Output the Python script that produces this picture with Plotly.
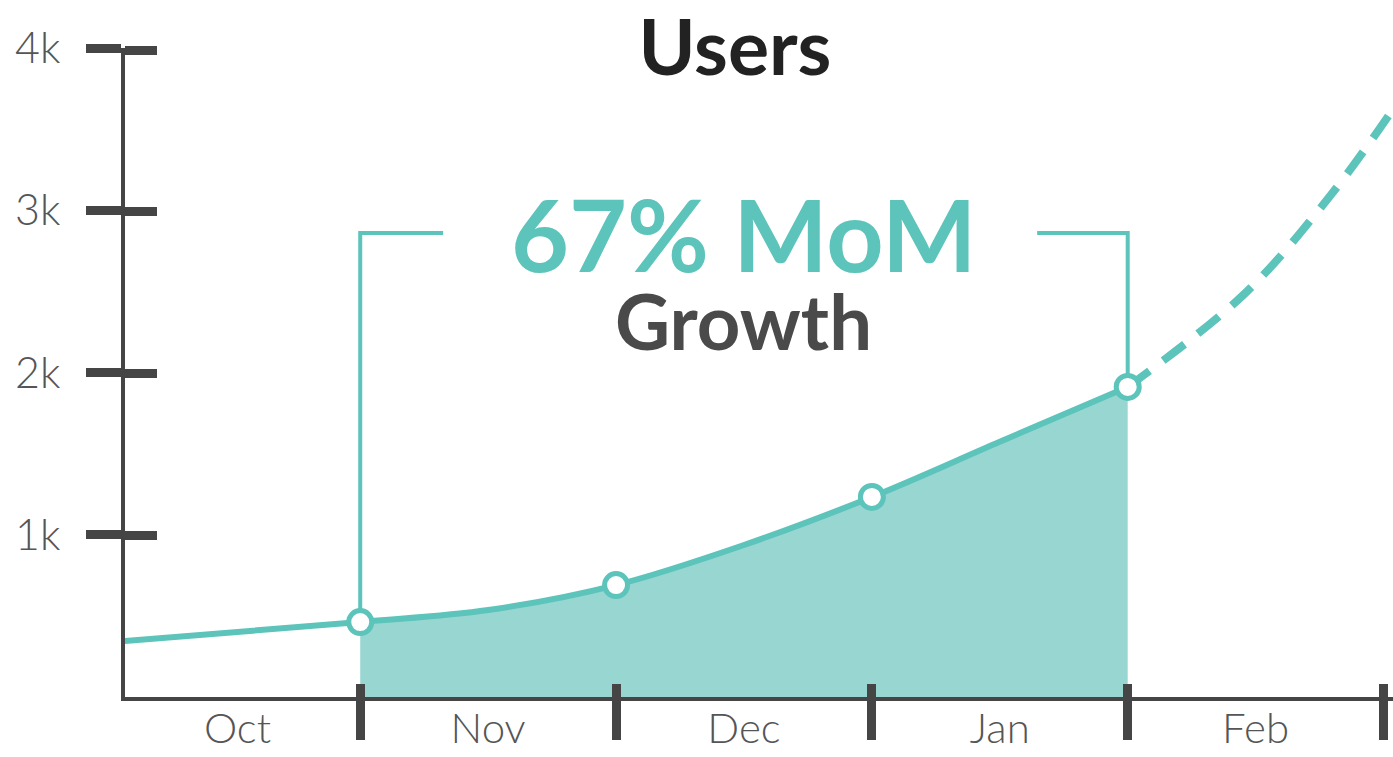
import plotly.graph_objects as go

# ---- data ----
months = ["Oct", "Nov", "Dec", "Jan", "Feb"]
month_bounds = [1, 2, 3, 4, 5]                       # month boundaries (x units)
line_x = [0.08, 1, 1.5, 2, 2.5, 3, 3.5, 4]
line_users = [345, 462, 536, 690, 937, 1233, 1573, 1911]
fill_x = [1, 1.5, 2, 2.5, 3, 3.5, 4]
fill_users = [462, 536, 690, 937, 1233, 1573, 1911]
point_x = [1, 2, 3, 4]
point_users = [462, 690, 1233, 1911]
proj_x = [4, 4.46, 4.8, 5.04]
proj_users = [1911, 2490, 3106, 3630]                # projection (dashed)
y_ticks = [1000, 2000, 3000, 4000]
y_ticktext = ["1k", "2k", "3k", "4k"]
growth_label = "67% MoM"
growth_sub = "Growth"
title_text = "Users"
bracket_top = 2860
bracket_inner = [1.324, 3.646]

TEAL = "#5cc4ba"
FILL = "#98d6d2"
DARK = "#454545"
LABEL = "#555555"

XR = [0.0805, 5.037]
YR = [0, 4000]
YR2 = [0, 4013]   # overlay axis for inner tick halves (keeps top tick from being clipped)

label_x = [0.52] + [b + 0.5 for b in month_bounds[:-1]]

fig = go.Figure()

# filled area Nov..Feb start
fig.add_trace(go.Scatter(x=fill_x, y=fill_users, mode="lines",
                         line=dict(width=0, shape="spline", color=FILL),
                         fill="tozeroy", fillcolor=FILL, hoverinfo="skip"))
# brackets
fig.add_trace(go.Scatter(x=[point_x[0], point_x[0], bracket_inner[0]],
                         y=[point_users[0], bracket_top, bracket_top],
                         mode="lines", line=dict(color=TEAL, width=4), hoverinfo="skip"))
fig.add_trace(go.Scatter(x=[bracket_inner[1], point_x[-1], point_x[-1]],
                         y=[bracket_top, bracket_top, point_users[-1]],
                         mode="lines", line=dict(color=TEAL, width=4), hoverinfo="skip"))
# projection
fig.add_trace(go.Scatter(x=proj_x, y=proj_users, mode="lines", cliponaxis=False,
                         line=dict(color=TEAL, width=8, dash="27px,17px", shape="spline")))
# solid line
fig.add_trace(go.Scatter(x=line_x, y=line_users, mode="lines",
                         line=dict(color=TEAL, width=6, shape="spline")))
# markers
fig.add_trace(go.Scatter(x=point_x, y=point_users, mode="markers",
                         marker=dict(size=23, color="white", line=dict(color=TEAL, width=5))))
# dummy traces for overlay axes
fig.add_trace(go.Scatter(x=[None], y=[None], xaxis="x2", yaxis="y2", hoverinfo="skip"))
fig.add_trace(go.Scatter(x=[None], y=[None], xaxis="x3", yaxis="y", hoverinfo="skip"))

mid = (point_x[0] + point_x[-1]) / 2
fig.add_annotation(x=mid, y=bracket_top, text=f"<b>{growth_label}</b>",
                   showarrow=False, font=dict(family="Lato", size=100, color=TEAL),
                   xanchor="center", yanchor="middle")
fig.add_annotation(x=mid, y=2320, text=f"<b>{growth_sub}</b>",
                   showarrow=False, font=dict(family="Lato", size=76, color="#4a4a4a"),
                   xanchor="center", yanchor="middle")

fig.update_layout(
    width=1393, height=757,
    margin=dict(l=125, r=0, t=48, b=60, pad=0),
    paper_bgcolor="white", plot_bgcolor="white",
    showlegend=False,
    title=dict(text=f"<b>{title_text}</b>", x=735 / 1393, xref="container", xanchor="center",
               y=1 - 48 / 757, yref="container", yanchor="middle",
               font=dict(family="Lato", size=77, color="#222222")),
    xaxis=dict(range=XR, showgrid=False, zeroline=False, showline=True, linecolor=DARK, linewidth=4,
               ticks="outside", ticklen=39, tickwidth=9, tickcolor=DARK, tickvals=month_bounds,
               showticklabels=False),
    xaxis2=dict(range=XR, overlaying="x", anchor="y2", side="bottom", showgrid=False, zeroline=False,
                ticks="inside", ticklen=13, tickwidth=9, tickcolor=DARK, tickvals=month_bounds,
                showticklabels=False),
    xaxis3=dict(range=XR, overlaying="x", anchor="y", side="bottom", showgrid=False, zeroline=False,
                ticks="", tickvals=label_x, ticktext=months, ticklabelstandoff=3,
                tickfont=dict(family="Lato", size=42, color=LABEL, weight=300)),
    yaxis=dict(range=YR, showgrid=False, zeroline=False, showline=True, linecolor=DARK, linewidth=4,
               ticks="outside", ticklen=35, tickwidth=9, tickcolor=DARK, tickvals=y_ticks,
               ticktext=y_ticktext, ticklabelstandoff=17,
               tickfont=dict(family="Lato", size=43, color=LABEL, weight=300)),
    yaxis2=dict(range=YR2, overlaying="y", anchor="x2", side="left", showgrid=False, zeroline=False,
                ticks="inside", ticklen=32, tickwidth=9, tickcolor=DARK, tickvals=y_ticks,
                showticklabels=False),
)

fig.write_html("out.html")
